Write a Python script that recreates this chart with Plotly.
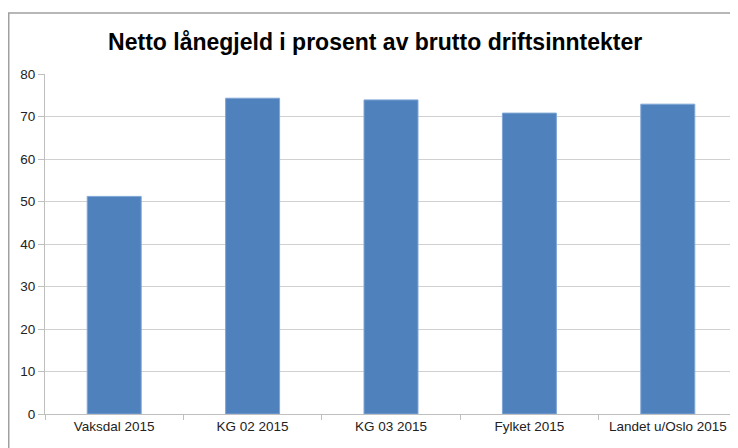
import plotly.graph_objects as go

categories = ["Vaksdal 2015", "KG 02 2015", "KG 03 2015", "Fylket 2015", "Landet u/Oslo 2015"]
values = [51.2, 74.3, 73.9, 70.8, 72.9]
y_ticks = [0, 10, 20, 30, 40, 50, 60, 70, 80]

font_fam = "Liberation Sans, Arial, sans-serif"

W, H = 730, 440
ML, MR, MT, MB = 37, 1, 66, 34
pw, ph = W - ML - MR, H - MT - MB

fig = go.Figure(go.Bar(
    x=categories, y=values,
    marker=dict(color="#4F81BD", line=dict(color="#7FA6D6", width=1)),
    width=0.39,
))

fig.update_layout(
    width=W, height=H,
    margin=dict(l=ML, r=MR, t=MT, b=MB),
    paper_bgcolor="white", plot_bgcolor="white",
    title=dict(text="<b>Netto lånegjeld i prosent av brutto driftsinntekter</b>",
               x=0.503, xanchor="center", y=1 - 34 / H, yanchor="middle",
               font=dict(family=font_fam, size=23, color="black")),
    font=dict(family=font_fam, size=13, color="#222222"),
    showlegend=False,
    xaxis=dict(type="category", showgrid=False, showline=True, linecolor="#BFBFBF",
               ticks="outside", tickson="boundaries", ticklen=5, tickcolor="#BFBFBF",
               tickfont=dict(size=13.5)),
    yaxis=dict(range=[0, 80], tickvals=y_ticks, showgrid=True, gridcolor="#D0D0D0",
               showline=True, linecolor="#BFBFBF", ticks="outside", ticklen=6,
               tickcolor="#BFBFBF", zeroline=False, tickfont=dict(size=13.5)),
    shapes=[dict(type="rect", xref="paper", yref="paper",
                 x0=(0.75 - ML) / pw, x1=1.2, y0=-0.3, y1=(H - MB - 5) / ph,
                 line=dict(color="#A0A0A0", width=1.5), fillcolor="rgba(0,0,0,0)")],
)

fig.write_html("out.html")
